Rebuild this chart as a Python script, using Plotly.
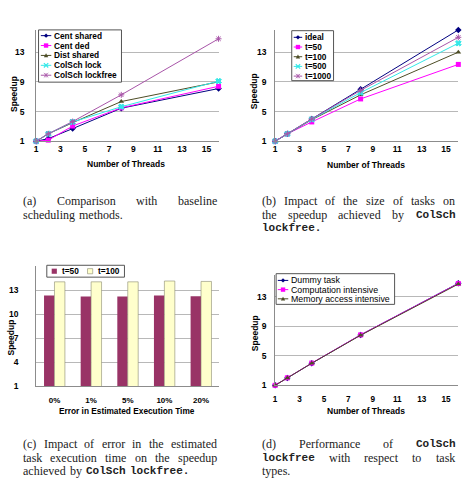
import plotly.graph_objects as go

W, H = 463, 491

# ---------------- data ----------------
threads = [1, 2, 4, 8, 16]
thread_ticks = [1, 3, 5, 7, 9, 11, 13, 15]
speedup_ticks = [1, 5, 9, 13]
error_ticks = [1, 4, 7, 10, 13]

# (a) baseline comparison
cent_shared = [1, 1.35, 2.7, 5.45, 8.1]
cent_ded = [1, 1.15, 3.05, 5.5, 8.4]
dist_shared = [1, 2.0, 3.5, 6.35, 9.0]
colsch_lock = [1, 2.0, 3.6, 5.65, 9.1]
colsch_lockfree = [1, 2.0, 3.65, 7.25, 14.8]

# (b) task size
ideal = [1, 2, 4, 8, 16]
t50_size = [1, 2, 3.6, 6.7, 11.35]
t100_size = [1, 2, 3.9, 7.25, 13.0]
t500_size = [1, 2, 3.95, 7.55, 14.2]
t1000_size = [1, 2, 4.0, 7.85, 15.0]

# (c) estimation error
error_levels = ['0%', '1%', '5%', '10%', '20%']
t50_error = [12.35, 12.2, 12.2, 12.35, 12.25]
t100_error = [14.05, 14.05, 14.05, 14.15, 14.1]

# (d) task types
dummy_task = [1, 2.0, 4.0, 7.85, 14.85]
computation_intensive = [1, 2.02, 4.02, 7.85, 14.82]
memory_intensive = [1, 2.0, 4.0, 7.8, 14.75]

# ---------------- styles ----------------
NAVY = '#000080'
MAG = '#FF00FF'
OLIVE = '#4D4D26'
CYAN = '#33E8E8'
PURPLE = '#A855A8'
MAROON = '#993366'
CREAM = '#FFFFCC'
GRID = '#B8B8B8'
AXLINE = '#8C8C8C'
SANS = 'Liberation Sans, Arial, sans-serif'
SERIF = 'Liberation Serif, Times New Roman, serif'
MONO = 'Liberation Mono, Courier New, monospace'


def px(x):
    return x / W


def py(y):
    return 1 - y / H


fig = go.Figure()

def add_line(xa, ya, x, y, color, symbol, name, lw=1):
    mline = dict(width=0)
    if symbol in ('x', 'asterisk-open'):
        mline = dict(width=1, color=color)
    fig.add_trace(go.Scatter(
        x=x, y=y, mode='lines+markers', name=name, xaxis=xa, yaxis=ya,
        line=dict(color=color, width=lw),
        marker=dict(color=color, symbol=symbol, size=5, line=mline),
        cliponaxis=False, showlegend=False))

# (a)
add_line('x', 'y', threads, cent_shared, NAVY, 'diamond', 'Cent shared')
add_line('x', 'y', threads, cent_ded, MAG, 'square', 'Cent ded')
add_line('x', 'y', threads, dist_shared, OLIVE, 'triangle-up', 'Dist shared')
add_line('x', 'y', threads, colsch_lock, CYAN, 'x', 'ColSch lock')
add_line('x', 'y', threads, colsch_lockfree, PURPLE, 'asterisk-open', 'ColSch lockfree')

# (b)
add_line('x2', 'y2', threads, ideal, NAVY, 'diamond', 'ideal')
add_line('x2', 'y2', threads, t50_size, MAG, 'square', 't=50')
add_line('x2', 'y2', threads, t100_size, OLIVE, 'triangle-up', 't=100')
add_line('x2', 'y2', threads, t500_size, CYAN, 'x', 't=500')
add_line('x2', 'y2', threads, t1000_size, PURPLE, 'asterisk-open', 't=1000')

# (c)
fig.add_trace(go.Bar(x=error_levels, y=t50_error, name='t=50', xaxis='x3', yaxis='y3',
                     marker=dict(color=MAROON, line=dict(width=0)), showlegend=False))
fig.add_trace(go.Bar(x=error_levels, y=t100_error, name='t=100', xaxis='x3', yaxis='y3',
                     marker=dict(color=CREAM, line=dict(width=0.6, color='#8A8A70')), showlegend=False))

# (d)
add_line('x4', 'y4', threads, dummy_task, NAVY, 'diamond', 'Dummy task')
add_line('x4', 'y4', threads, computation_intensive, MAG, 'square', 'Computation intensive')
add_line('x4', 'y4', threads, memory_intensive, OLIVE, 'triangle-up', 'Memory access intensive')

tickfont = dict(family=SANS, size=8.5, color='#000', weight='bold')

def xax(dom, anchor, **kw):
    d = dict(domain=dom, anchor=anchor, showgrid=False, zeroline=False, showline=True,
             linecolor=AXLINE, linewidth=1, ticks='', tickfont=tickfont, fixedrange=True)
    d.update(kw)
    return d

def yax(dom, anchor, **kw):
    d = dict(domain=dom, anchor=anchor, showgrid=True, gridcolor=GRID, gridwidth=1,
             zeroline=False, showline=True, linecolor=AXLINE, linewidth=1, ticks='',
             tickfont=tickfont, fixedrange=True)
    d.update(kw)
    return d

top_dom = [py(142.7), py(30.2)]
fig.update_layout(
    width=W, height=H, margin=dict(l=0, r=0, t=0, b=0),
    paper_bgcolor='white', plot_bgcolor='white', showlegend=False,
    bargap=0.43, bargroupgap=0.0, barmode='group',
    xaxis=xax([px(34.3), px(217.5)], 'y', range=[1, 16], tickvals=thread_ticks, ticklabelstandoff=0),
    yaxis=yax(top_dom, 'x', range=[1, 16], tickvals=speedup_ticks, ticklabelstandoff=9),
    xaxis2=xax([px(274.3), px(458.3)], 'y2', range=[1, 16], tickvals=thread_ticks, ticklabelstandoff=0),
    yaxis2=yax(top_dom, 'x2', range=[1, 16], tickvals=speedup_ticks, ticklabelstandoff=6),
    xaxis3=xax([px(34.3), px(218.3)], 'y3', range=[-0.5, 4.5], ticklabelstandoff=6,
               tickfont=dict(family=SANS, size=8, color='#000', weight='bold')),
    yaxis3=yax([py(390), py(269)], 'x3', range=[1, 16], tickvals=error_ticks, ticklabelstandoff=15),
    xaxis4=xax([px(274.3), px(458.3)], 'y4', range=[1, 16], tickvals=thread_ticks, ticklabelstandoff=6,
               tickfont=dict(family=SANS, size=8.2, color='#000', weight='bold')),
    yaxis4=yax([py(389.3), py(277.7)], 'x4', range=[1, 16], tickvals=speedup_ticks, ticklabelstandoff=6),
)

annotations = []
shapes = []

def text(x, y, s, size=8.5, family=SANS, weight='bold', xanchor='center', angle=0, color='#000'):
    annotations.append(dict(x=px(x), y=py(y), xref='paper', yref='paper', text=s, showarrow=False,
                            xanchor=xanchor, yanchor='middle', textangle=angle, borderpad=0,
                            font=dict(family=family, size=size, color=color, weight=weight)))

# axis titles
text(125, 166, 'Number of Threads')
text(12, 95, 'Speedup', angle=-90)
text(366, 166.3, 'Number of Threads')
text(252.7, 92.5, 'Speedup', angle=-90)
text(126, 415.5, 'Error in Estimated Execution Time', size=8.3)
text(9, 341, 'Speedup', angle=-90)
text(366, 415, 'Number of Threads')
text(253.7, 337, 'Speedup', angle=-90)

# ---- manual compact legends ----
def box(x0, y0, x1, y1):
    shapes.append(dict(type='rect', xref='paper', yref='paper', x0=px(x0), x1=px(x1),
                       y0=py(y1), y1=py(y0), line=dict(color='#555', width=1), fillcolor='white',
                       layer='above'))

def P(x, y):
    return f'{px(x):.5f},{py(y):.5f}'

def marker(cx, cy, color, symbol, r=2.2, fill=None, outline=None):
    if symbol == 'diamond':
        path = f'M{P(cx, cy - r)} L{P(cx + r, cy)} L{P(cx, cy + r)} L{P(cx - r, cy)} Z'
        shapes.append(dict(type='path', xref='paper', yref='paper', path=path, fillcolor=color,
                           line=dict(width=0), layer='above'))
    elif symbol == 'square':
        shapes.append(dict(type='rect', xref='paper', yref='paper', x0=px(cx - r), x1=px(cx + r),
                           y0=py(cy + r), y1=py(cy - r), fillcolor=fill or color,
                           line=dict(width=0.6 if outline else 0, color=outline or color), layer='above'))
    elif symbol == 'triangle':
        path = f'M{P(cx, cy - r)} L{P(cx + r, cy + r * 0.8)} L{P(cx - r, cy + r * 0.8)} Z'
        shapes.append(dict(type='path', xref='paper', yref='paper', path=path, fillcolor=color,
                           line=dict(width=0), layer='above'))
    elif symbol == 'x':
        path = f'M{P(cx - r, cy - r)} L{P(cx + r, cy + r)} M{P(cx - r, cy + r)} L{P(cx + r, cy - r)}'
        shapes.append(dict(type='path', xref='paper', yref='paper', path=path,
                           line=dict(width=1.2, color=color), layer='above'))
    elif symbol == 'asterisk':
        path = (f'M{P(cx - r, cy - r)} L{P(cx + r, cy + r)} M{P(cx - r, cy + r)} L{P(cx + r, cy - r)} '
                f'M{P(cx, cy - r)} L{P(cx, cy + r)}')
        shapes.append(dict(type='path', xref='paper', yref='paper', path=path,
                           line=dict(width=0.8, color=color), layer='above'))

def entry(kx0, kx1, y, color, symbol, label, tx, size=8.3, weight='bold'):
    shapes.append(dict(type='line', xref='paper', yref='paper', x0=px(kx0), x1=px(kx1),
                       y0=py(y), y1=py(y), line=dict(color=color, width=1), layer='above'))
    marker((kx0 + kx1) / 2, y, color, symbol)
    text(tx, y, label, size=size, weight=weight, xanchor='left')

legend_a = [('Cent shared', NAVY, 'diamond'), ('Cent ded', MAG, 'square'),
            ('Dist shared', OLIVE, 'triangle'), ('ColSch lock', CYAN, 'x'),
            ('ColSch lockfree', PURPLE, 'asterisk')]
box(36.7, 30.2, 120, 83)
for i, (lab, c, s) in enumerate(legend_a):
    entry(39, 49.5, 36 + 10 * i, c, s, lab, 51.5)

legend_b = [('ideal', NAVY, 'diamond'), ('t=50', MAG, 'square'), ('t=100', OLIVE, 'triangle'),
            ('t=500', CYAN, 'x'), ('t=1000', PURPLE, 'asterisk')]
box(291, 31, 333, 81.5)
for i, (lab, c, s) in enumerate(legend_b):
    entry(293, 301.5, 37.7 + 9.8 * i, c, s, lab, 303)

box(45, 268, 123, 280)
marker(52.5, 274, MAROON, 'square', r=2.6)
text(59.5, 274, 't=50', size=8.3, xanchor='left')
marker(88.5, 274, CREAM, 'square', r=2.6, fill=CREAM, outline='#8A8A70')
text(95.5, 274, 't=100', size=8.3, xanchor='left')

legend_d = [('Dummy task', NAVY, 'diamond'), ('Computation intensive', MAG, 'square'),
            ('Memory access intensive', OLIVE, 'triangle')]
box(275.3, 276.5, 394.3, 307.5)
for i, (lab, c, s) in enumerate(legend_d):
    entry(277, 287.5, 283.3 + 9.3 * i, c, s, lab, 289.5, size=8.8, weight='normal')

# ---- captions: justified paragraphs laid out with approximate glyph widths ----
CAP = 12
MONO_SIZE = 11
TIMES = {' ': 250, '(': 333, ')': 333, '.': 250, 'a': 444, 'b': 500, 'c': 444, 'd': 500,
         'e': 444, 'f': 333, 'g': 500, 'h': 500, 'i': 278, 'j': 278, 'k': 500, 'l': 278,
         'm': 778, 'n': 500, 'o': 500, 'p': 500, 'q': 500, 'r': 333, 's': 389, 't': 278,
         'u': 500, 'v': 500, 'w': 722, 'x': 500, 'y': 500, 'z': 444, 'C': 667, 'I': 333,
         'P': 556}


def word_width(w, mono):
    if mono:
        return 0.6 * MONO_SIZE * len(w)
    return sum(TIMES.get(ch, 500) for ch in w) / 1000 * CAP


def put_word(w, x, y, mono):
    annotations.append(dict(x=px(x), y=py(y), xref='paper', yref='paper', text=w,
                            showarrow=False, xanchor='left', yanchor='middle', borderpad=0,
                            font=dict(family=MONO if mono else SERIF,
                                      size=MONO_SIZE if mono else CAP, color='#222',
                                      weight='bold' if mono else 'normal')))


def caption_line(tokens, y, left, right, justify=True):
    widths = [word_width(w, m) for w, m in tokens]
    if justify and len(tokens) > 1:
        gap = (right - left - sum(widths)) / (len(tokens) - 1)
    else:
        gap = 0.36 * CAP
    x = left
    for (w, m), wd in zip(tokens, widths):
        put_word(w, x, y, m)
        x += wd + gap


def toks(s, mono_words=()):
    return [(w, w.rstrip('.') in mono_words) for w in s.split(' ')]

MW = ('ColSch', 'lockfree')
LA, RA = 20, 215
LB, RB = 260, 454

caption_line(toks('(a) Comparison with baseline'), 203, LA, RA)
caption_line(toks('scheduling methods.'), 217, LA, RA, justify=False)

caption_line(toks('(b) Impact of the size of tasks on'), 203, LB, RB)
caption_line(toks('the speedup achieved by ColSch', MW), 217, LB, RB)
caption_line([('lockfree.', True)], 230.7, LB, RB, justify=False)

caption_line(toks('(c) Impact of error in the estimated'), 449, LA, RA)
caption_line(toks('task execution time on the speedup'), 462.3, LA, RA)
caption_line([('achieved', False), ('by', False), ('ColSch', True), ('lockfree.', True)], 475.7,
             LA, RA, justify=False)

caption_line(toks('(d) Performance of ColSch', MW), 449, LB, RB)
caption_line(toks('lockfree with respect to task', MW), 462.3, LB, RB)
caption_line(toks('types.'), 475.7, LB, RB, justify=False)

fig.update_layout(annotations=annotations, shapes=shapes)
fig.write_html('out.html')
